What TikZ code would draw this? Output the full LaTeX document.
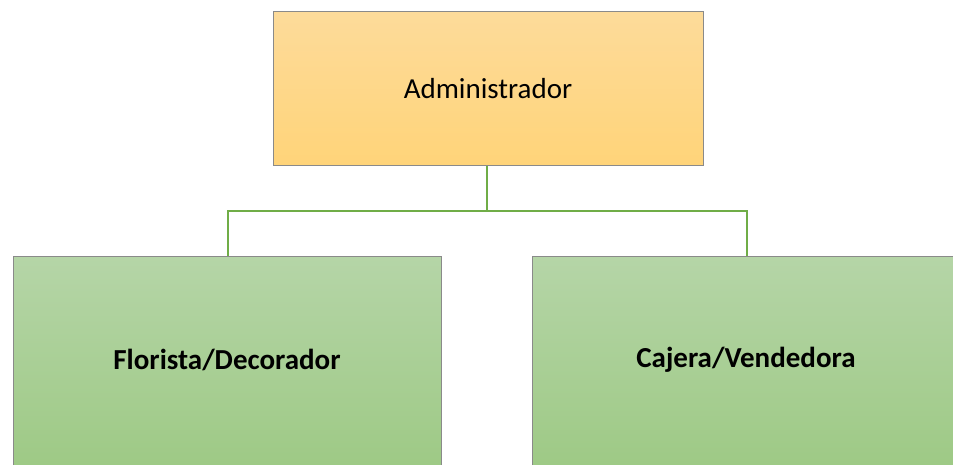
\documentclass[tikz,border=0pt]{standalone}
\usepackage{fontspec}
\setmainfont{Carlito}
\definecolor{orgtop}{HTML}{FDDB9A}
\definecolor{orgbot}{HTML}{FFD479}
\definecolor{grntop}{HTML}{B5D5A7}
\definecolor{grnbot}{HTML}{9DC984}
\definecolor{conn}{HTML}{70AD47}
\definecolor{edge}{HTML}{8A8A8A}
\tikzset{
  boxstyle/.style={draw=edge, line width=1pt, inner sep=0pt},
  topbox/.style={boxstyle, top color=orgtop, bottom color=orgbot, minimum width=430pt, minimum height=154pt, font=\fontsize{29}{35}\selectfont},
  subbox/.style={boxstyle, top color=grntop, bottom color=grnbot, minimum width=428pt, minimum height=218pt},
  sublabel/.style={font=\fontsize{29}{35}\selectfont\bfseries},
  link/.style={draw=conn, line width=2pt}
}
\begin{document}
\begin{tikzpicture}[x=1pt,y=-1pt]
\useasboundingbox (0,0) rectangle (953,465);
\clip (0,0) rectangle (953,465);
\node[topbox] (admin) at (488,89) {Administrador};
\node[subbox, anchor=north west] (flor) at (13,256) {};
\node[sublabel] (florlbl) at (227,360) {Florista/Decorador};
\node[subbox, anchor=north west] (caje) at (532,256) {};
\node[sublabel] (cajelbl) at (746,360) {Cajera/Vendedora};
\coordinate (mid) at (487,211);
\draw[link] (admin.south -| mid) -- (mid);
\draw[link] (flor.north) |- (mid) -| (caje.north);
\end{tikzpicture}
\end{document}
